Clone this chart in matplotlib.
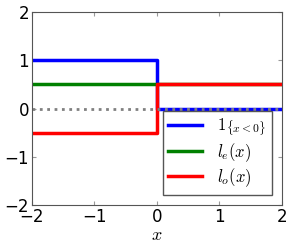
import matplotlib
matplotlib.use("Agg")
import matplotlib.pyplot as plt

# step data, drawn with steps-post
x_pts = [-2, 0, 2]
indicator = [1, 0, 0]
l_even = [0.5, 0.5, 0.5]
l_odd = [-0.5, 0.5, 0.5]

plt.rcParams['mathtext.fontset'] = 'cm'
plt.rcParams['xtick.direction'] = 'in'
plt.rcParams['ytick.direction'] = 'in'
plt.rcParams['xtick.top'] = True
plt.rcParams['ytick.right'] = True

fig = plt.figure(figsize=(2.91, 2.47), dpi=100)
ax = fig.add_axes([0.109, 0.170, 0.859, 0.781])

ax.plot(x_pts, indicator, drawstyle='steps-post', color='blue', lw=2.5, label=r'$1_{\{x<0\}}$')
ax.plot(x_pts, l_even, drawstyle='steps-post', color='green', lw=2.5, label=r'$l_e(x)$')
ax.plot(x_pts, l_odd, drawstyle='steps-post', color='red', lw=2.5, label=r'$l_o(x)$')
ax.axhline(0, color='gray', ls=':', lw=2)

ax.set_xlim(-2, 2)
ax.set_ylim(-2, 2)
ax.set_xticks([-2, -1, 0, 1, 2])
ax.set_yticks([-2, -1, 0, 1, 2])
ax.tick_params(labelsize=12, length=3, color='#999999', pad=2)
for s in ax.spines.values():
    s.set_color('#555555')
ax.set_xlabel('$x$', fontsize=13, labelpad=0)

leg = ax.legend(loc='lower right', fontsize=12, fancybox=False, handlelength=2.0,
                handletextpad=0.9, labelspacing=0.15, borderpad=0.35,
                borderaxespad=0.6, framealpha=1)
leg.get_frame().set_edgecolor('#555555')

fig.savefig('out.png', dpi=100)
